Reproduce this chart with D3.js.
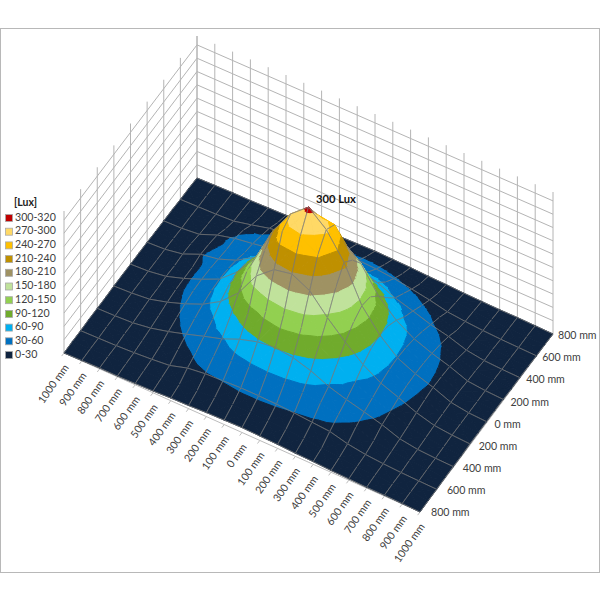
<!DOCTYPE html>
<html><head><meta charset="utf-8">
<script src="https://cdn.jsdelivr.net/npm/d3@7"></script>
<style>html,body{margin:0;padding:0;background:#fff}svg{display:block}text{font-family:Lato,"Open Sans",sans-serif}</style>
</head><body><div id="chart"></div>
<script>
const xPositions = [-1000,-900,-800,-700,-600,-500,-400,-300,-200,-100,0,100,200,300,400,500,600,700,800,900,1000];
const xLabels = ["1000 mm","900 mm","800 mm","700 mm","600 mm","500 mm","400 mm","300 mm","200 mm","100 mm","0 mm","100 mm","200 mm","300 mm","400 mm","500 mm","600 mm","700 mm","800 mm","900 mm","1000 mm"];
const yPositions = [800,700,600,500,400,300,200,100,0,-100,-200,-300,-400,-500,-600,-700,-800];
const yTickPositions = [-800,-600,-400,-200,0,200,400,600,800];
const yLabels = ["800 mm","600 mm","400 mm","200 mm","0 mm","200 mm","400 mm","600 mm","800 mm"];
const zLevels = [0,30,60,90,120,150,180,210,240,270,300];
const bandLabels = ["300-320","270-300","240-270","210-240","180-210","150-180","120-150","90-120","60-90","30-60","0-30"];
const bandColors = ["#c00000","#ffd966","#ffc000","#bf9000","#9f9263","#c0e29b","#92d050","#70ab2c","#00b0f0","#0070c0","#10243f"];
const bandLows = [300,270,240,210,180,150,120,90,60,30,0];
const bandHighs = [320,300,270,240,210,180,150,120,90,60,30];
// lux readings, rows from y=+800 (back) to y=-800 (front), columns from x=-1000 to x=+1000
const luxRow00 = [0,1,2,2,3,4,6,7,9,10,11,10,9,7,6,4,3,2,2,1,0];
const luxRow01 = [1,2,3,4,6,12,18,20,22,23,24,23,20,15,11,8,6,4,3,2,1];
const luxRow02 = [1,2,3,5,14,24,30,33,36,38,40,38,34,28,21,12,8,5,3,2,1];
const luxRow03 = [2,3,5,12,27,32,37,43,51,56,58,56,51,43,33,24,13,8,5,3,2];
const luxRow04 = [2,3,7,23,33,39,46,58,75,87,92,87,75,58,46,33,24,11,5,3,2];
const luxRow05 = [2,4,11,27,33,43,58,83,108,130,140,130,108,83,58,43,31,18,8,4,2];
const luxRow06 = [3,5,12,29,36,51,75,108,145,188,208,200,168,112,75,51,36,24,9,5,3];
const luxRow07 = [3,5,10,24,39,56,87,128,188,245,268,262,200,135,87,56,39,26,11,5,3];
const luxRow08 = [3,5,11,24,40,58,92,140,220,276,309,276,220,140,92,58,40,27,11,5,3];
const luxRow09 = [3,5,9,23,39,56,87,135,200,262,268,245,188,128,87,56,39,24,10,5,3];
const luxRow10 = [3,5,9,20,34,51,75,112,168,200,208,188,145,108,75,51,36,20,9,5,3];
const luxRow11 = [2,4,7,15,28,43,58,83,108,130,140,130,108,83,58,43,30,15,7,4,2];
const luxRow12 = [2,3,5,11,21,33,46,58,75,87,92,87,75,58,46,36,25,11,5,3,2];
const luxRow13 = [2,3,5,8,13,23,33,43,51,56,58,56,51,45,36,27,14,8,5,3,2];
const luxRow14 = [1,2,3,5,8,12,24,29,31,33,33,32,30,27,24,14,8,5,3,2,1];
const luxRow15 = [1,2,3,4,6,8,11,15,18,20,21,20,18,15,11,8,6,4,3,2,1];
const luxRow16 = [0,1,2,2,3,4,6,7,9,10,11,10,9,7,6,4,3,2,2,1,0];
const luxGrid = [luxRow00,luxRow01,luxRow02,luxRow03,luxRow04,luxRow05,luxRow06,luxRow07,luxRow08,luxRow09,luxRow10,luxRow11,luxRow12,luxRow13,luxRow14,luxRow15,luxRow16];

const W=600,H=600;
const svg=d3.select("#chart").append("svg").attr("width",W).attr("height",H);
svg.append("rect").attr("x",0.5).attr("y",28.5).attr("width",599).attr("height",544).attr("fill","#fff").attr("stroke","#b8b8b8").attr("stroke-width",1);

const fx=d3.scaleLinear().domain([-1000,1000]).range([0,1]);
const fy=d3.scaleLinear().domain([-800,800]).range([0,1]);
const fz=d3.scaleLinear().domain([0,320]).range([0,142]);
const L=[64,353],F=[420,512],R=[553,334],B=[197,178];
function proj(x,y,z){
  const u=fx(x),v=fy(y);
  const px=(1-v)*((1-u)*L[0]+u*F[0])+v*((1-u)*B[0]+u*R[0]);
  const py=(1-v)*((1-u)*L[1]+u*F[1])+v*((1-u)*B[1]+u*R[1]);
  return [px,py-fz(z)];
}
const line=d3.line().x(d=>d[0]).y(d=>d[1]);
const segment=(g,a,b,c,w)=>g.append("path").attr("d",line([a,b])).attr("stroke",c).attr("stroke-width",w).attr("fill","none");

// walls
const wall=svg.append("g");
const wallColor="#b4b4b4";
zLevels.forEach(z=>{
  segment(wall,proj(-1000,-800,z),proj(-1000,800,z),wallColor,1);
  segment(wall,proj(-1000,800,z),proj(1000,800,z),wallColor,1);
});
yTickPositions.forEach(y=>segment(wall,proj(-1000,y,0),proj(-1000,y,320),wallColor,1));
xPositions.forEach(x=>segment(wall,proj(x,800,0),proj(x,800,320),wallColor,1));

// axis base lines and ticks
const axisColor="#bdbdbd";
const axes=svg.append("g");
segment(axes,proj(-1000,-800,0),proj(1000,-800,0),axisColor,1);
segment(axes,proj(1000,-800,0),proj(1000,800,0),axisColor,1);
xPositions.forEach(x=>{segment(axes,proj(x,-800,0),proj(x,-828,0),axisColor,1);});

// surface: back to front
const surf=svg.append("g");
function clip(poly,lim,keepAbove){
  const out=[];
  for(let i=0;i<poly.length;i++){
    const a=poly[i],b=poly[(i+1)%poly.length];
    const ina=keepAbove?a[2]>=lim:a[2]<=lim,inb=keepAbove?b[2]>=lim:b[2]<=lim;
    if(ina)out.push(a);
    if(ina!==inb){const t=(lim-a[2])/(b[2]-a[2]);out.push([a[0]+t*(b[0]-a[0]),a[1]+t*(b[1]-a[1]),lim]);}
  }
  return out;
}
const meshColor="#787878";
const meshWidth=0.8;
const toScreen=p=>proj(p[0],p[1],p[2]);
for(let j=0;j<yPositions.length-1;j++){
  for(let i=0;i<xPositions.length-1;i++){
    const x0=xPositions[i],x1=xPositions[i+1],y0=yPositions[j],y1=yPositions[j+1];
    const a=[x0,y0,luxGrid[j][i]],b=[x1,y0,luxGrid[j][i+1]],c=[x1,y1,luxGrid[j+1][i+1]],d=[x0,y1,luxGrid[j+1][i]];
    const m=[(x0+x1)/2,(y0+y1)/2,(a[2]+b[2]+c[2]+d[2])/4];
    [[a,b,m],[d,a,m],[b,c,m],[c,d,m]].forEach(tri=>{
      bandLows.forEach((lo,k)=>{
        let p=clip(tri,lo,true);
        if(p.length>2)p=clip(p,bandHighs[k],false);
        if(p.length>2){
          surf.append("path").attr("d",line(p.map(toScreen))+"Z").attr("fill",bandColors[k]).attr("stroke",bandColors[k]).attr("stroke-width",1);
        }
      });
    });
    if(j%2===0)segment(surf,toScreen(a),toScreen(b),meshColor,meshWidth);
    if((j+1)%2===0)segment(surf,toScreen(d),toScreen(c),meshColor,meshWidth);
    segment(surf,toScreen(a),toScreen(d),meshColor,meshWidth);
    segment(surf,toScreen(b),toScreen(c),meshColor,meshWidth);
  }
}

// axis labels
const labelColor="#404040";
const labelSize=10.6;
xPositions.forEach((x,i)=>{
  const p=proj(x,-800,0);
  svg.append("text").attr("transform",`translate(${p[0]+3},${p[1]+13}) rotate(-55)`)
    .attr("text-anchor","end").attr("dominant-baseline","middle").attr("font-size",labelSize).attr("fill",labelColor).text(xLabels[i]);
});
const yLabelX=d3.scaleLinear().domain([-800,800]).range([431,558]);
const yLabelY=d3.scaleLinear().domain([-800,800]).range([513.5,336.5]);
yTickPositions.forEach((y,i)=>{
  svg.append("text").attr("x",yLabelX(y)).attr("y",yLabelY(y)).attr("dominant-baseline","middle").attr("font-size",labelSize).attr("fill",labelColor).text(yLabels[i]);
});

// legend
svg.append("text").attr("x",14).attr("y",203).attr("dominant-baseline","middle").attr("font-size",10.5).attr("font-weight",700).attr("fill","#222").text("[Lux]");
const ly=d3.scaleLinear().domain([0,10]).range([218,355]);
bandLabels.forEach((t,i)=>{
  svg.append("rect").attr("x",5.5).attr("y",ly(i)-3.5).attr("width",7).attr("height",7).attr("fill",bandColors[i]).attr("stroke","#a8a8a8").attr("stroke-width",0.8);
  svg.append("text").attr("x",15).attr("y",ly(i)).attr("dominant-baseline","middle").attr("font-size",labelSize).attr("fill",labelColor).text(t);
});
svg.append("text").attr("x",316).attr("y",200).attr("dominant-baseline","middle").attr("font-size",11.2).attr("font-weight",700).attr("fill","#111").text("300 Lux");
</script></body></html>
